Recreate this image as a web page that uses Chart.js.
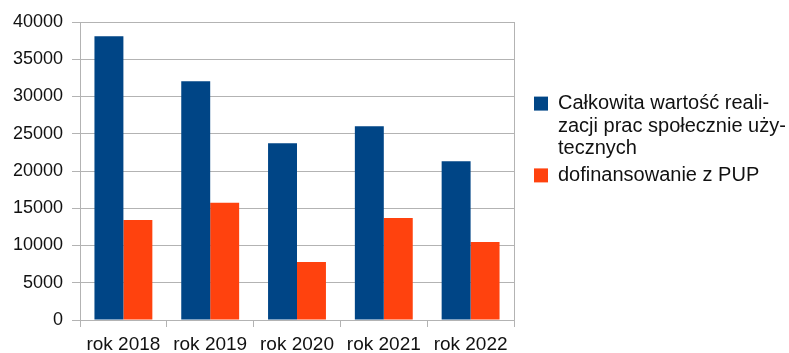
<!DOCTYPE html>
<html>
<head>
<meta charset="utf-8">
<script src="https://cdn.jsdelivr.net/npm/chart.js@4/dist/chart.umd.min.js"></script>
<style>
  body { margin: 0; background: #fff; }
  #wrap { width: 789px; height: 353px; }
</style>
</head>
<body>
<div id="wrap"><canvas id="myChart" width="789" height="353"></canvas></div>
<script>
// data
const years = ["rok 2018", "rok 2019", "rok 2020", "rok 2021", "rok 2022"];
const totalValue = [38100, 32050, 23730, 26010, 21320];
const pupFunding = [13410, 15730, 7780, 13680, 10460];
const seriesNames = ["Całkowita wartość realizacji prac społecznie użytecznych", "dofinansowanie z PUP"];
const legendLines = [["Całkowita wartość reali-", "zacji prac społecznie uży-", "tecznych"], ["dofinansowanie z PUP"]];

const gridColor = "#b3b3b3";
const textColor = "#111";
const family = "'Liberation Sans', Arial, sans-serif";
const font = { family: family, size: 18 };
const xFont = { family: family, size: 19 };
const legendFont = { family: family, size: 20, lineHeight: 1.13 };

var ctx = document.getElementById("myChart").getContext("2d");
var myChart = new Chart(ctx, {
    type: "bar",
    data: {
        labels: years,
        datasets: [{
            label: seriesNames[0],
            data: totalValue,
            backgroundColor: "#004586",
            borderWidth: 0
        }, {
            label: seriesNames[1],
            data: pupFunding,
            backgroundColor: "#ff420e",
            borderWidth: 0
        }]
    },
    options: {
        responsive: false,
        animation: false,
        layout: {
            padding: { left: 13, top: 22, right: 0, bottom: 0 }
        },
        datasets: {
            bar: { barPercentage: 1, categoryPercentage: 0.667 }
        },
        plugins: {
            tooltip: { enabled: false },
            legend: {
                position: "right",
                align: "start",
                maxWidth: 259,
                title: { display: true, text: "", padding: { top: 46, bottom: 0 }, font: font },
                labels: {
                    color: textColor,
                    font: legendFont,
                    boxWidth: 14,
                    boxHeight: 14,
                    padding: 4,
                    generateLabels: function(chart) {
                        return chart.data.datasets.map(function(ds, i) {
                            return {
                                text: legendLines[i],
                                fillStyle: ds.backgroundColor,
                                strokeStyle: ds.backgroundColor,
                                fontColor: textColor,
                                lineWidth: 0,
                                hidden: false,
                                datasetIndex: i
                            };
                        });
                    }
                }
            }
        },
        scales: {
            x: {
                afterFit: function(s) { s.height = 33; },
                grid: {
                    offset: true,
                    drawOnChartArea: false,
                    color: gridColor,
                    tickColor: gridColor,
                    tickLength: 7
                },
                border: { color: gridColor },
                ticks: { color: textColor, font: xFont, padding: 6, maxRotation: 0 }
            },
            y: {
                min: 0,
                max: 40000,
                afterFit: function(s) { s.width = 67; },
                grid: { color: gridColor, tickLength: 8 },
                border: { color: gridColor },
                ticks: {
                    stepSize: 5000,
                    color: textColor,
                    font: font,
                    padding: 9,
                    callback: function(v) { return String(v); }
                }
            },
            // empty right axis: draws the right frame line and leaves the gap before the legend
            yRight: {
                position: "right",
                afterFit: function(s) { s.width = 16; },
                grid: { display: false },
                ticks: { display: false },
                border: { color: gridColor }
            }
        }
    }
});
</script>
</body>
</html>
